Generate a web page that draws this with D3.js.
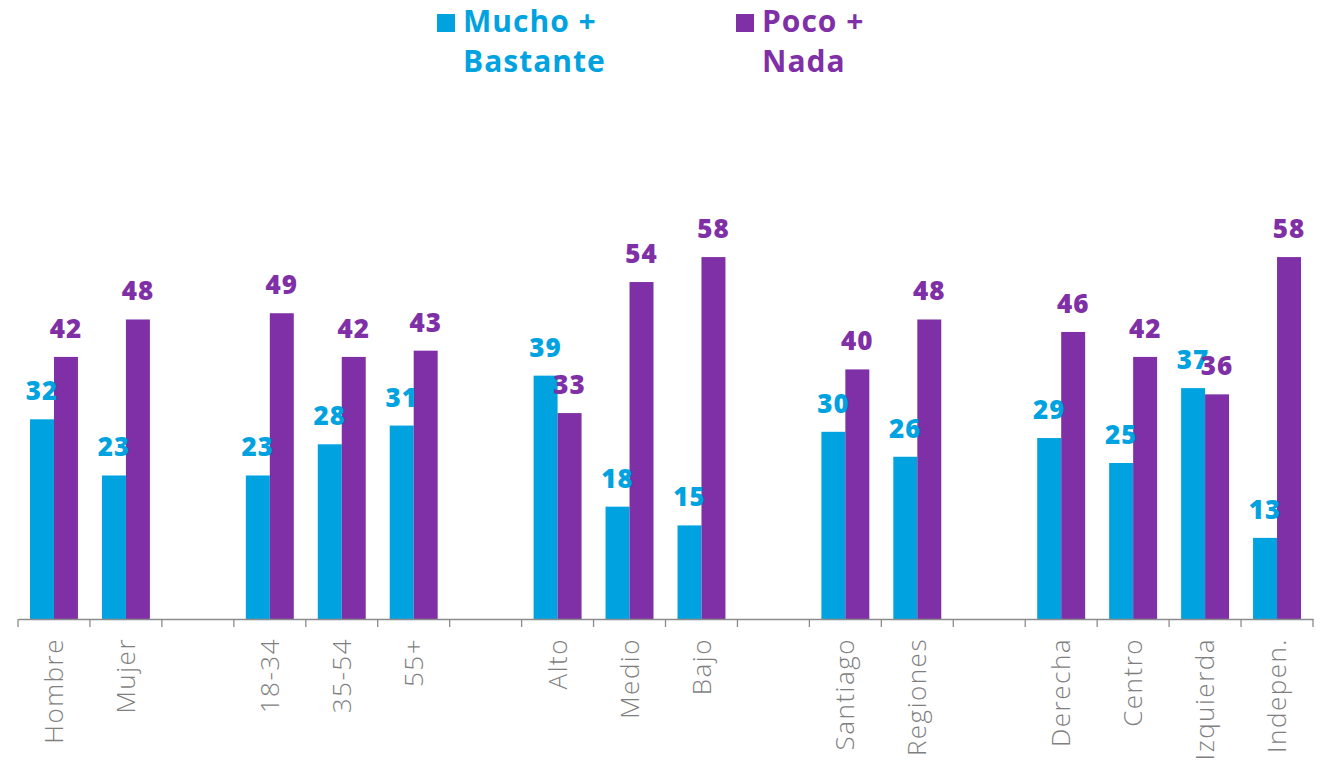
<!DOCTYPE html>
<html>
<head>
<meta charset="utf-8">
<script src="https://cdn.jsdelivr.net/npm/d3@7"></script>
<style>
  body { margin: 0; background: #fff; }
  svg { display: block; }
</style>
</head>
<body>
<svg id="chart" width="1332" height="763"></svg>
<script>
// slots, "" are the empty gaps between groups
var categories = ["Hombre", "Mujer", "", "18-34", "35-54", "55+", "", "Alto", "Medio", "Bajo", "", "Santiago", "Regiones", "", "Derecha", "Centro", "Izquierda", "Indepen."];
var muchoBastante = [32, 23, null, 23, 28, 31, null, 39, 18, 15, null, 30, 26, null, 29, 25, 37, 13];
var pocoNada = [42, 48, null, 49, 42, 43, null, 33, 54, 58, null, 40, 48, null, 46, 42, 36, 58];
var seriesNames = ["Mucho + Bastante", "Poco + Nada"];
var legendLines = [["Mucho +", "Bastante"], ["Poco +", "Nada"]];

var BLUE = "#00a3e0";
var PURPLE = "#7f30a6";
var colors = [BLUE, PURPLE];

var svg = d3.select("#chart");
var left = 18, right = 1313, baseY = 619;

var x = d3.scaleBand().domain(d3.range(categories.length)).range([left, right]).paddingInner(0).paddingOuter(0);
var x1 = d3.scaleBand().domain([0, 1]).range([12, x.bandwidth() - 12]);
var y = d3.scaleLinear().domain([0, 60]).range([baseY, baseY - 6.24 * 60]);

var rows = categories.map(function (c, i) {
    return {i: i, name: c, vals: [muchoBastante[i], pocoNada[i]]};
});

var g = svg.append("g");

rows.forEach(function (r) {
    r.vals.forEach(function (v, s) {
        if (v == null) return;
        var bx = x(r.i) + x1(s);
        g.append("rect")
            .attr("x", bx).attr("y", y(v))
            .attr("width", x1.bandwidth()).attr("height", y(0) - y(v))
            .attr("fill", colors[s]);
    });
});

// labels after bars so they sit on top
rows.forEach(function (r) {
    r.vals.forEach(function (v, s) {
        if (v == null) return;
        var bx = x(r.i) + x1(s) + x1.bandwidth() / 2;
        g.append("text")
            .attr("x", bx).attr("y", y(v) - 19)
            .attr("text-anchor", "middle")
            .attr("font-family", "'Open Sans', sans-serif")
            .attr("font-weight", 800)
            .attr("font-size", 26)
            .attr("letter-spacing", 1)
            .attr("fill", colors[s])
            .text(v);
    });
});

// axis
var axis = d3.axisBottom(x).tickSize(0).tickFormat(function (d) { return categories[d]; });
var ax = svg.append("g").attr("transform", "translate(0," + baseY + ")").call(axis);
ax.select(".domain").attr("stroke", "#8c8c8c").attr("stroke-width", 1.3);
ax.selectAll(".tick text")
    .attr("transform", "rotate(-90)")
    .attr("x", -19).attr("y", 0).attr("dy", "0.35em")
    .attr("text-anchor", "end")
    .attr("font-family", "'Open Sans', sans-serif")
    .attr("font-weight", 300)
    .attr("font-size", 26)
    .attr("letter-spacing", 1.5)
    .attr("fill", "#7f7f7f");

// boundary ticks between slots
var bounds = d3.range(categories.length + 1).map(function (i) { return left + i * x.bandwidth(); });
ax.selectAll(".sep").data(bounds).enter().append("line")
    .attr("x1", function (d) { return d; }).attr("x2", function (d) { return d; })
    .attr("y1", 0).attr("y2", 8)
    .attr("stroke", "#8c8c8c").attr("stroke-width", 1.3);

// legend
var legendX = [437, 736];
seriesNames.forEach(function (n, s) {
    var lg = svg.append("g").attr("transform", "translate(" + legendX[s] + ",0)");
    lg.append("rect").attr("x", 0).attr("y", 14).attr("width", 18).attr("height", 18).attr("fill", colors[s]);
    legendLines[s].forEach(function (t, k) {
        lg.append("text")
            .attr("x", 26).attr("y", 32 + k * 40)
            .attr("font-family", "'Open Sans', sans-serif")
            .attr("font-weight", 700)
            .attr("font-size", 30)
            .attr("letter-spacing", 1)
            .attr("fill", colors[s])
            .text(t);
    });
});
</script>
</body>
</html>
